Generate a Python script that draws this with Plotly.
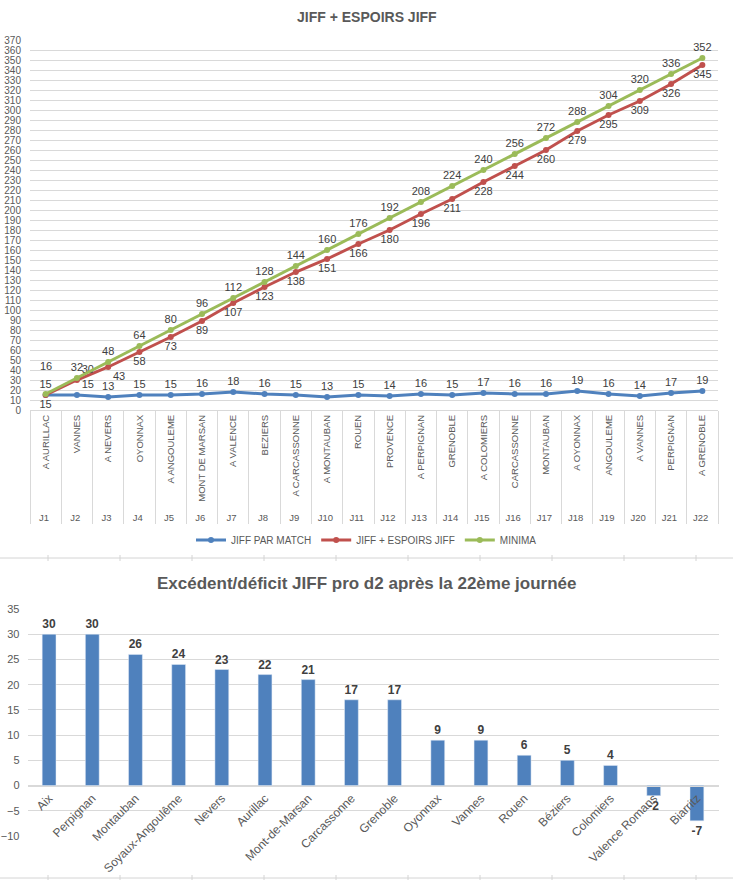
import plotly.graph_objects as go

# ---------------- data ----------------
journees = ["J%d" % i for i in range(1, 23)]
adversaires = ["A AURILLAC", "VANNES", "A NEVERS", "OYONNAX", "A ANGOULEME",
               "MONT DE MARSAN", "A VALENCE", "BEZIERS", "A CARCASSONNE",
               "A MONTAUBAN", "ROUEN", "PROVENCE", "A PERPIGNAN", "GRENOBLE",
               "A COLOMIERS", "CARCASSONNE", "MONTAUBAN", "A OYONNAX",
               "ANGOULEME", "A VANNES", "PERPIGNAN", "A GRENOBLE"]
jiff_par_match = [15, 15, 13, 15, 15, 16, 18, 16, 15, 13, 15, 14, 16, 15, 17, 16, 16, 19, 16, 14, 17, 19]
jiff_espoirs = [15, 30, 43, 58, 73, 89, 107, 123, 138, 151, 166, 180, 196, 211, 228, 244, 260, 279, 295, 309, 326, 345]
minima = [16, 32, 48, 64, 80, 96, 112, 128, 144, 160, 176, 192, 208, 224, 240, 256, 272, 288, 304, 320, 336, 352]

clubs = ["Aix", "Perpignan", "Montauban", "Soyaux-Angoulême", "Nevers", "Aurillac",
         "Mont-de-Marsan", "Carcassonne", "Grenoble", "Oyonnax", "Vannes", "Rouen",
         "Béziers", "Colomiers", "Valence Romans", "Biarritz"]
excedent = [30, 30, 26, 24, 23, 22, 21, 17, 17, 9, 9, 6, 5, 4, -2, -7]

# ---------------- layout helpers ----------------
W, H = 733, 880
def px_y(p):
    return (H - p) / H
def px_x(p):
    return p / W

FONT = "Liberation Sans"
GRID = "#d9d9d9"
TXT = "#595959"
LBL = "#404040"

BLUE = "#4F81BD"
RED = "#C0504D"
GREEN = "#9BBB59"

xcat = [journees, adversaires]

fig = go.Figure()

blue_pos = ["top center"] * len(journees)
blue_pos[1] = "top right"
red_pos = ["bottom center"] * len(journees)
red_pos[1] = "top right"
red_pos[2] = "bottom right"
green_pos = ["top center"] * len(journees)

fig.add_trace(go.Scatter(
    x=xcat, y=jiff_par_match, name="JIFF PAR MATCH", mode="lines+markers+text",
    line=dict(color=BLUE, width=3), marker=dict(size=6, color=BLUE),
    text=[str(v) for v in jiff_par_match], textposition=blue_pos,
    textfont=dict(family=FONT, size=11, color=LBL), cliponaxis=False,
    xaxis="x", yaxis="y"))
fig.add_trace(go.Scatter(
    x=xcat, y=jiff_espoirs, name="JIFF + ESPOIRS JIFF", mode="lines+markers+text",
    line=dict(color=RED, width=3), marker=dict(size=6, color=RED),
    text=[str(v) for v in jiff_espoirs], textposition=red_pos,
    textfont=dict(family=FONT, size=11, color=LBL), cliponaxis=False,
    xaxis="x", yaxis="y"))
green_text = [str(v) for v in minima]
green_text[0] = ""
fig.add_trace(go.Scatter(
    x=xcat, y=minima, name="MINIMA", mode="lines+markers+text",
    line=dict(color=GREEN, width=3), marker=dict(size=6, color=GREEN),
    text=green_text, textposition=green_pos,
    textfont=dict(family=FONT, size=11, color=LBL), cliponaxis=False,
    xaxis="x", yaxis="y"))

fig.add_trace(go.Bar(
    x=clubs, y=excedent, marker=dict(color=BLUE), showlegend=False,
    text=[str(v) for v in excedent], textposition="outside",
    textfont=dict(family=FONT, size=12, color=LBL, weight="bold"),
    cliponaxis=False, xaxis="x2", yaxis="y2"))

y1_dom = [px_y(410), px_y(40)]
y2_dom = [px_y(836), px_y(609)]
y2_range = [-10, 35]
zero_pos = y2_dom[0] + (0 - y2_range[0]) / (y2_range[1] - y2_range[0]) * (y2_dom[1] - y2_dom[0])

fig.update_layout(
    width=W, height=H, margin=dict(l=0, r=0, t=0, b=0, autoexpand=False),
    paper_bgcolor="white", plot_bgcolor="white",
    font=dict(family=FONT, size=11, color=TXT),
    xaxis=dict(domain=[px_x(30), px_x(718)], type="multicategory", anchor="y",
               range=[-0.5, len(journees) - 0.5], autorange=False,
               tickangle=-90, tickfont=dict(size=9.5, color=TXT), automargin=False,
               showdividers=True, dividercolor=GRID, dividerwidth=1,
               showline=True, linecolor=GRID, showgrid=False, ticks=""),
    yaxis=dict(domain=y1_dom, range=[0, 370], dtick=10, anchor="x", automargin=False,
               showgrid=True, gridcolor=GRID, zeroline=False, showline=False,
               tickfont=dict(size=10, color=TXT), ticks="", ticklabelstandoff=8),
    xaxis2=dict(domain=[px_x(27.5), px_x(718.5)], anchor="free", position=zero_pos,
                range=[-0.5, len(clubs) - 0.5], autorange=False,
                tickangle=-45, tickfont=dict(size=12, color=TXT), automargin=False,
                showline=True, linecolor=GRID, showgrid=False, ticks=""),
    yaxis2=dict(domain=y2_dom, range=y2_range, dtick=5, anchor="x2", automargin=False,
                showgrid=True, gridcolor=GRID, zeroline=False, showline=False,
                tickfont=dict(size=11, color=TXT), ticks="", ticklabelstandoff=7),
    bargap=0.68,
    legend=dict(orientation="h", x=0.5, xanchor="center", y=px_y(540), yanchor="middle",
                bgcolor="rgba(0,0,0,0)", font=dict(size=10, color=TXT),
                itemwidth=30, tracegroupgap=0),
    showlegend=True,
)

fig.add_annotation(x=0.5, y=px_y(17), xref="paper", yref="paper", yanchor="middle",
                   text="<b>JIFF + ESPOIRS JIFF</b>",
                   showarrow=False, font=dict(family=FONT, size=14, color=TXT))
fig.add_annotation(x=0.5, y=px_y(583), xref="paper", yref="paper", yanchor="middle",
                   text="<b>Excédent/déficit JIFF pro d2 après la 22ème journée</b>",
                   showarrow=False, font=dict(family=FONT, size=17, color=TXT))
# J1 minima label (lifted above the overlapping JIFF label)
fig.add_annotation(x=0, y=minima[0], xref="x", yref="y", text=str(minima[0]),
                   showarrow=False, yshift=28, font=dict(family=FONT, size=11, color=LBL))

# spreadsheet cell grid visible between and below the charts
for yy in (558, 878):
    fig.add_shape(type="line", xref="paper", yref="paper", x0=0, x1=1, y0=px_y(yy), y1=px_y(yy),
                  line=dict(color="#d4d4d4", width=1))
    for k in range(10):
        xx = 48 + 72 * k
        fig.add_shape(type="line", xref="paper", yref="paper", x0=px_x(xx), x1=px_x(xx),
                      y0=px_y(yy - 3), y1=px_y(yy + 3), line=dict(color="#d4d4d4", width=1))

fig.write_html("out.html", config={"displayModeBar": False},
               post_script="document.body.style.margin='0';")
